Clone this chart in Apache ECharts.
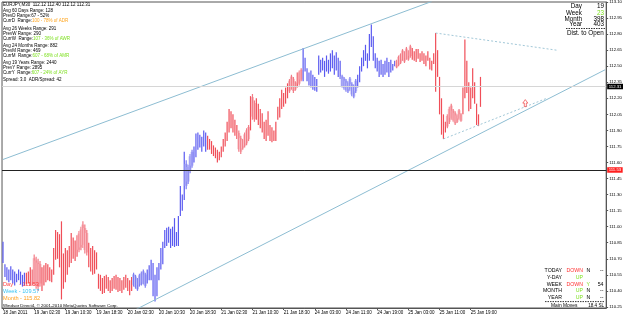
<!DOCTYPE html>
<html><head><meta charset="utf-8">
<script src="https://cdn.jsdelivr.net/npm/echarts@6/dist/echarts.min.js"></script>
<style>html,body{margin:0;padding:0;background:#fff}#c{width:625px;height:319px}</style>
</head><body><div id="c"></div>
<script>
// ---- data (EURJPY, M30) ----
const highs = [
110.86,110.65,110.62,110.60,110.63,110.60,110.58,110.56,110.60,110.58,110.55,110.57,
110.57,110.58,110.62,110.60,110.74,110.72,110.70,110.68,110.62,110.64,
110.66,110.65,110.62,110.60,110.80,110.97,110.95,110.93,111.05,110.75,
110.80,110.78,110.82,110.94,110.90,110.87,110.92,110.96,111.00,111.05,
111.02,110.97,110.85,110.80,110.82,110.78,110.76,110.56,110.55,110.52,
110.54,110.55,110.53,110.50,110.52,110.54,110.55,110.53,
110.52,110.50,110.53,110.55,110.52,110.50,110.53,
110.57,110.55,110.52,110.56,110.58,110.60,110.57,110.60,110.64,110.69,
110.66,110.55,110.62,110.66,110.80,110.86,110.97,110.99,111.00,110.98,
111.00,111.08,110.95,111.10,111.38,111.30,111.70,111.62,111.58,111.68,
111.72,111.75,111.87,111.88,111.86,111.84,
111.90,111.88,111.85,111.82,111.80,111.76,111.74,111.72,111.70,111.75,
111.82,111.88,111.98,112.10,112.08,112.05,112.00,111.95,111.90,111.85,
111.82,111.88,111.92,111.95,112.22,112.24,112.18,112.20,112.15,112.10,
112.06,111.98,112.00,112.08,111.95,111.93,
111.90,111.98,112.12,112.20,112.28,112.25,112.30,112.34,112.38,112.42,
112.40,112.36,112.44,112.46,112.48,112.67,112.58,112.48,112.44,112.46,
112.42,112.40,112.38,112.60,112.56,112.58,112.55,112.60,112.56,112.62,
112.65,112.60,112.63,112.58,112.55,112.42,112.40,112.38,112.36,112.40,112.35,112.33,
112.38,112.42,112.50,112.58,112.65,112.70,112.62,112.80,112.89,112.78,
112.62,112.58,112.55,112.56,112.52,112.55,112.58,112.54,112.56,112.52,112.55,
112.56,112.60,112.62,112.66,112.64,112.68,112.65,112.70,112.67,112.64,112.66,
112.66,112.62,112.64,112.62,112.60,112.64,112.58,112.55,112.62,112.81,
112.65,112.40,112.20,112.05,111.98,112.05,112.12,112.15,112.10,112.08,
112.05,112.10,112.06,112.30,112.75,112.55,112.35,112.30,112.48,112.35,112.15,112.05,112.40
];
const lows = [
110.66,110.53,110.50,110.48,110.50,110.47,110.45,110.48,110.50,110.46,110.44,110.45,
110.46,110.47,110.45,110.45,110.45,110.42,110.40,110.44,110.40,110.45,
110.48,110.50,110.49,110.48,110.55,110.69,110.70,110.62,110.32,110.42,
110.48,110.55,110.62,110.66,110.70,110.68,110.72,110.76,110.78,110.80,
110.75,110.73,110.62,110.58,110.55,110.56,110.60,110.42,110.40,110.37,
110.38,110.42,110.40,110.38,110.40,110.42,110.41,110.39,
110.40,110.38,110.41,110.43,110.40,110.36,110.40,
110.44,110.42,110.40,110.44,110.45,110.46,110.43,110.47,110.50,110.50,
110.35,110.30,110.35,110.50,110.60,110.65,110.80,110.82,110.85,110.80,
110.82,110.81,110.82,110.82,111.10,111.15,111.25,111.35,111.40,111.50,
111.55,111.60,111.65,111.72,111.74,111.70,
111.75,111.70,111.72,111.72,111.68,111.66,111.64,111.60,111.62,111.65,
111.70,111.75,111.80,111.88,111.92,111.88,111.85,111.82,111.70,111.68,
111.72,111.74,111.76,111.80,111.90,112.00,111.98,112.00,111.95,111.92,
111.88,111.82,111.80,111.85,111.80,111.79,
111.80,111.80,112.00,112.02,112.10,112.12,112.15,112.20,112.25,112.28,
112.25,112.27,112.30,112.32,112.36,112.36,112.45,112.36,112.32,112.30,
112.28,112.27,112.26,112.42,112.44,112.46,112.40,112.45,112.43,112.45,
112.48,112.42,112.46,112.40,112.38,112.30,112.28,112.26,112.25,112.27,112.22,112.20,
112.25,112.30,112.35,112.45,112.50,112.55,112.48,112.55,112.68,112.55,
112.48,112.45,112.40,112.42,112.40,112.42,112.44,112.40,112.44,112.46,112.50,
112.48,112.50,112.52,112.55,112.53,112.56,112.55,112.58,112.56,112.55,112.54,
112.57,112.54,112.55,112.52,112.50,112.55,112.47,112.46,112.52,112.26,
112.40,112.05,111.86,111.82,111.88,111.92,111.96,112.00,111.98,111.95,
111.97,112.00,111.98,112.05,112.20,112.25,112.08,112.10,112.20,112.15,111.95,111.94,112.12
];
// indicator state per bar: U strong up, u weak up, D strong down, d weak down (run-length)
const trendRuns = [['U',12],['D',4],['d',4],['D',19],['d',5],['D',16],['D',7],['u',7],['U',20],['u',4],
  ['U',7],['D',16],['d',6],['D',1],['d',2],['D',17],['d',4],['D',1],['d',2],['U',20],['u',8],['U',20],
  ['d',8],['D',18],['d',8],['D',10]];
const timeLabels = ['18 Jan 2011','19 Jan 02:30','19 Jan 10:30','19 Jan 18:30','20 Jan 02:30','20 Jan 10:30',
  '20 Jan 18:30','21 Jan 02:30','21 Jan 10:30','21 Jan 18:30','24 Jan 03:00','24 Jan 11:00','24 Jan 19:00',
  '25 Jan 03:00','25 Jan 11:00','25 Jan 19:00'];
const barsPerLabel = 16;
const slotCount = 310;
const yTicks = [110.25,110.40,110.55,110.70,110.85,111.00,111.15,111.30,111.45,111.60,111.75,111.90,
  112.05,112.20,112.35,112.50,112.65,112.80,112.95,113.10];
const bidPrice = 112.31;
const dayOpen = 111.53;
const upperChannel = [[0,111.628],[220,113.105]];
const lowerChannel = [[68,110.224],[309,112.467]];
const upperDotted = [[222,112.81],[284,112.65]];
const lowerDotted = [[226,111.82],[279,112.20]];
const arrowPoint = [[268,112.155]];

const infoLines = [
  [5.2, 'EURJPY,M30  112.12 112.40 112.12 112.31', ''],
  [10.5, 'Avg 60 Days Range: 128', ''],
  [15.8, 'PrevD Range:67 - 52%', ''],
  [21, 'CurrD  Range:', '100 - 78% of ADR', 'o'],
  [29, 'Avg 26 Weeks Range: 291', ''],
  [33.9, 'PrevW Range: 290', ''],
  [38.8, 'CurrW  Range:', '107 - 36% of AWR', 'g'],
  [45.8, 'Avg 24 Months Range: 882', ''],
  [51, 'PrevM Range: 469', ''],
  [55.8, 'CurrM  Range:', '607 - 68% of AMR', 'g'],
  [62.7, 'Avg 19 Years Range: 2440', ''],
  [67.7, 'PrevY Range: 2895', ''],
  [72.7, 'CurrY  Range:', '607 - 24% of AYR', 'g'],
  [80, 'Spread: 3.0  ADR/Spread: 42', '']
];
const rangeNames = ['Day','Week','Month','Year'];
const rangeValues = ['19','23','398','403'];
const moveNames = ['TODAY','Y-DAY','WEEK','MONTH','YEAR'];
const moveDirs = ['DOWN','UP','DOWN','UP','UP'];
const moveFlags = ['N','','Y','N','N'];
const moveVals = ['--','','54','--','--'];
const levelTexts = [['Day    - 111.53','#ff3c3c'],['Week - 109.57','#3cc4f4'],['Month - 115.82','#ffa020']];

// ---- build ----
const trendStr = trendRuns.map(r => r[0].repeat(r[1])).join('');
const categories = Array.from({length: slotCount}, (_, i) =>
  (i % barsPerLabel === 0 && i / barsPerLabel < timeLabels.length) ? timeLabels[i / barsPerLabel] : '');
const FONT = '"Liberation Sans", Arial, sans-serif';
const GREEN = '#7ee020', ORANGE = '#ffa41c', RED = '#ff3030';

const graphics = [];
infoLines.forEach(l => {
  let txt = '{k|' + l[1] + '}';
  if (l[2]) txt += '{' + l[3] + '|' + l[2] + '}';
  graphics.push({type:'text', x:3, y:l[0], z:50, style:{text: txt, verticalAlign:'middle',
    rich:{k:{fill:'#000', fontSize:4.5, fontFamily:FONT}, o:{fill:ORANGE, fontSize:4.5, fontFamily:FONT},
          g:{fill:GREEN, fontSize:4.5, fontFamily:FONT}}}});
});
const rY = [6.7, 12.8, 19, 24.6];
rangeNames.forEach((n, k) => {
  graphics.push({type:'text', x:582, y:rY[k], z:50, style:{text:n, align:'right', verticalAlign:'middle', fill:'#000', fontSize:6.3, fontFamily:FONT}});
  graphics.push({type:'text', x:604, y:rY[k], z:50, style:{text:rangeValues[k], align:'right', verticalAlign:'middle', fill: k===1?GREEN:'#000', fontSize:6.3, fontFamily:FONT}});
});
graphics.push({type:'line', z:50, shape:{x1:566, y1:28.5, x2:605, y2:28.5}, style:{stroke:'#000', lineWidth:0.8, lineDash:[1.5,1]}});
graphics.push({type:'text', x:567, y:33.3, z:50, style:{text:'Dist. to Open', verticalAlign:'middle', fill:'#000', fontSize:6.3, fontFamily:FONT}});
const mY = [270.6, 277.4, 284.2, 291, 297.8];
moveNames.forEach((n, k) => {
  graphics.push({type:'text', x:562, y:mY[k], z:50, style:{text:n, align:'right', verticalAlign:'middle', fill:'#000', fontSize:5.2, fontFamily:FONT}});
  graphics.push({type:'text', x:583, y:mY[k], z:50, style:{text:moveDirs[k], align:'right', verticalAlign:'middle', fill: moveDirs[k]==='UP'?GREEN:RED, fontSize:5.2, fontFamily:FONT}});
  graphics.push({type:'text', x:586.5, y:mY[k], z:50, style:{text:moveFlags[k], verticalAlign:'middle', fill: moveFlags[k]==='Y'?GREEN:'#000', fontSize:5.2, fontFamily:FONT}});
  graphics.push({type:'text', x:603.5, y:mY[k], z:50, style:{text:moveVals[k], align:'right', verticalAlign:'middle', fill:'#000', fontSize:5.2, fontFamily:FONT}});
});
graphics.push({type:'line', z:50, shape:{x1:545, y1:301.6, x2:605, y2:301.6}, style:{stroke:'#000', lineWidth:0.8, lineDash:[1.5,1]}});
graphics.push({type:'text', x:551, y:305.4, z:50, style:{text:'Main Moves', verticalAlign:'middle', fill:'#000', fontSize:4.9, fontFamily:FONT}});
graphics.push({type:'text', x:604, y:305.4, z:50, style:{text:'18.4 SL', align:'right', verticalAlign:'middle', fill:'#000', fontSize:4.6, fontFamily:FONT}});
levelTexts.forEach((t, k) => {
  graphics.push({type:'text', x:3, y:284.3 + k*7, z:50, style:{text:t[0], verticalAlign:'middle', fill:t[1], fontSize:5.6, fontFamily:FONT}});
});
graphics.push({type:'text', x:3, y:305.8, z:50, style:{text:'Windsor Direct4, \u00a9 2001-2010 MetaQuotes Software Corp.', verticalAlign:'middle', fill:'#000', fontSize:4.4, fontFamily:FONT}});

const barColors = {U:'#5a5af0', u:'#7c7cf2', D:'#f04e58', d:'#f27a84'};
const shadeColors = {u:'#c4c4f7', d:'#f9c0c7'};

const chart = echarts.init(document.getElementById('c'), null, {renderer:'canvas'});
chart.setOption({
  animation: false,
  backgroundColor: '#fff',
  grid: {left:2, top:2, width:605, height:306, show:true, borderColor:'#555', borderWidth:1},
  xAxis: {
    type:'category', data: categories, boundaryGap:true,
    axisLine:{show:true, lineStyle:{color:'#555'}},
    axisTick:{show:true, alignWithLabel:true, length:2, interval:(i, v) => v !== '', lineStyle:{color:'#555'}},
    axisLabel:{show:true, interval:(i, v) => v !== '', align:'left', margin:2.5, fontSize:4.5, color:'#000', fontFamily:FONT},
    splitLine:{show:false}
  },
  yAxis: {
    type:'value', position:'right', min:110.24, max:113.10,
    axisLine:{show:true, lineStyle:{color:'#555'}},
    axisTick:{show:true, length:2, customValues: yTicks, lineStyle:{color:'#555'}},
    axisLabel:{show:true, customValues: yTicks, formatter: v => v.toFixed(2), margin:3, fontSize:4.3, color:'#000', fontFamily:FONT},
    splitLine:{show:false}
  },
  graphic: graphics,
  series: [
    {
      type:'custom', z:2, silent:true,
      data: highs.map((h, i) => [i, h, lows[i]]),
      encode:{x:0, y:[1,2]},
      renderItem(params, api) {
        const idx = params.dataIndex;
        const p1 = api.coord([idx, highs[idx]]);
        const p2 = api.coord([idx, lows[idx]]);
        const t = trendStr.charAt(idx) || 'D';
        const cx = p1[0];
        const h = Math.max(1, p2[1] - p1[1]);
        const kids = [];
        if (t === 'u' || t === 'd') {
          kids.push({type:'rect', shape:{x:cx - 1.5, y:p1[1] + h * 0.12, width:3, height:h * 0.76}, style:{fill:shadeColors[t], stroke:null}});
        }
        kids.push({type:'rect', shape:{x:cx - 0.6, y:p1[1], width:1.2, height:h}, style:{fill:barColors[t], stroke:null}});
        return {type:'group', children:kids};
      },
      markLine: {
        silent:true, symbol:'none', animation:false,
        data: [
          {yAxis: bidPrice, lineStyle:{color:'#d6d6d6', type:'solid', width:1},
           label:{show:true, position:'end', distance:1, formatter: bidPrice.toFixed(2), color:'#fff', backgroundColor:'#000', padding:[1,1.5,0.5,1.5], fontSize:4.3, fontFamily:FONT}},
          {yAxis: dayOpen, lineStyle:{color:'#222', type:'solid', width:1},
           label:{show:true, position:'end', distance:1, formatter: dayOpen.toFixed(2), color:'#fff', backgroundColor:'#ff2020', padding:[1,1.5,0.5,1.5], fontSize:4.3, fontFamily:FONT}}
        ]
      }
    },
    {type:'line', z:3, silent:true, data: upperChannel, showSymbol:false, clip:true, lineStyle:{color:'#8dbdd2', width:1}},
    {type:'line', z:3, silent:true, data: lowerChannel, showSymbol:false, clip:true, lineStyle:{color:'#8dbdd2', width:1}},
    {type:'line', z:3, silent:true, data: upperDotted, showSymbol:false, clip:true, lineStyle:{color:'#a2c8d8', width:1, type:[2,2]}},
    {type:'line', z:3, silent:true, data: lowerDotted, showSymbol:false, clip:true, lineStyle:{color:'#a2c8d8', width:1, type:[2,2]}},
    {type:'scatter', z:4, silent:true, data: arrowPoint,
     symbol:'path://M5,0 L10,5 L7,5 L7,10 L3,10 L3,5 L0,5 Z', symbolSize:[5,7],
     itemStyle:{color:'#fff', borderColor:'#ee3030', borderWidth:0.8}}
  ]
});
</script></body></html>
